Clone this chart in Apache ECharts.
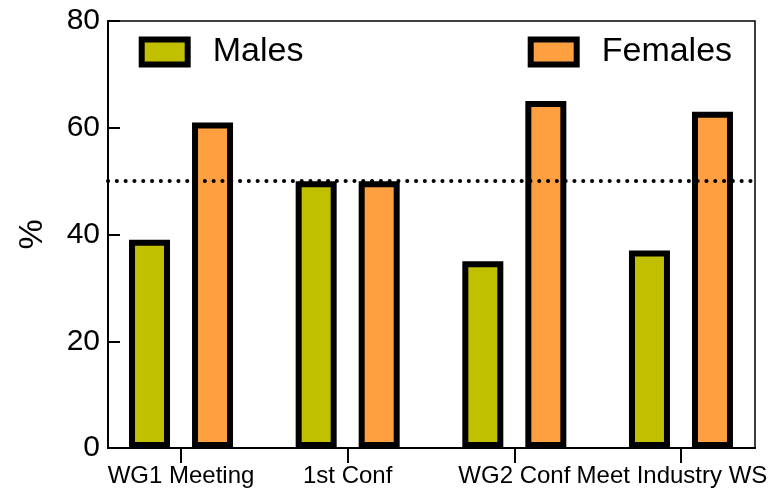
<!DOCTYPE html>
<html>
<head>
<meta charset="utf-8">
<script src="https://cdn.jsdelivr.net/npm/echarts@6/dist/echarts.min.js"></script>
<style>
html,body{margin:0;padding:0;background:#fff;}
#chart{width:780px;height:495px;}
</style>
</head>
<body>
<div id="chart"></div>
<script>
const categories = ['WG1 Meeting', '1st Conf', 'WG2 Conf', 'Meet Industry WS'];
const males = [39, 50, 35, 37];
const females = [61, 50, 65, 63];
const seriesNames = ['Males', 'Females'];
const yMin = 0, yMax = 80, yStep = 20;
const refLine = 50;

const FONT = 'Liberation Sans, Arial, Helvetica, sans-serif';
const maleColor = '#c0bf00';
const femaleColor = '#ffa040';

const chart = echarts.init(document.getElementById('chart'), null, {renderer: 'canvas'});
chart.setOption({
  animation: false,
  backgroundColor: '#fff',
  textStyle: {fontFamily: FONT},
  grid: [
    {left: 108, right: 25, top: 21, bottom: 47, show: true, borderColor: '#000', borderWidth: 1.5, backgroundColor: 'transparent'},
    {left: 97.7, right: 15.7, top: 21, bottom: 47}
  ],
  legend: [
    {
      data: [seriesNames[0]], left: 138.7, top: 35, padding: 0,
      icon: 'rect', itemWidth: 46, itemHeight: 25,
      itemStyle: {borderColor: '#000', borderWidth: 6},
      textStyle: {fontSize: 34, color: '#000', fontFamily: FONT, lineHeight: 34, padding: [0, 0, 0, 20]}
    },
    {
      data: [seriesNames[1]], left: 527.7, top: 35, padding: 0,
      icon: 'rect', itemWidth: 46, itemHeight: 25,
      itemStyle: {borderColor: '#000', borderWidth: 6},
      textStyle: {fontSize: 34, color: '#000', fontFamily: FONT, lineHeight: 34, padding: [0, 0, 0, 20]}
    }
  ],
  xAxis: [
    {
      gridIndex: 0, type: 'value', min: 0, max: 1,
      axisLine: {show: true, lineStyle: {color: '#000', width: 2}},
      axisTick: {show: false}, axisLabel: {show: false}, splitLine: {show: false}
    },
    {
      gridIndex: 1, type: 'category', boundaryGap: true,
      data: categories.map((c, i) => i === categories.length - 1
        ? {value: c, textStyle: {padding: [0, 18, 0, 0]}} : c),
      axisLine: {show: false},
      axisTick: {show: true, alignWithLabel: true, length: 15, lineStyle: {color: '#000', width: 2}},
      axisLabel: {interval: 0, fontSize: 24, color: '#000', margin: 16, fontFamily: FONT},
      splitLine: {show: false}
    }
  ],
  yAxis: [
    {
      gridIndex: 0, type: 'value', min: yMin, max: yMax, interval: yStep,
      name: '%', nameLocation: 'middle', nameGap: 58, nameRotate: 90,
      nameTextStyle: {fontSize: 34, color: '#000', fontFamily: FONT},
      axisLine: {show: true, lineStyle: {color: '#000', width: 2}},
      axisTick: {show: true, inside: true, length: 12, lineStyle: {color: '#000', width: 2}},
      axisLabel: {fontSize: 30, color: '#000', margin: 8, fontFamily: FONT},
      splitLine: {show: false}
    },
    {
      gridIndex: 1, type: 'value', min: yMin, max: yMax, interval: yStep, show: false,
      splitLine: {show: false}
    }
  ],
  series: [
    {
      name: 'ref', type: 'line', xAxisIndex: 0, yAxisIndex: 0, data: [], z: 1,
      markLine: {
        silent: true, symbol: ['none', 'none'], label: {show: false},
        lineStyle: {color: '#000', type: [0.1, 8.7], cap: 'round', width: 4},
        data: [{yAxis: refLine}]
      }
    },
    {
      name: seriesNames[0], type: 'bar', xAxisIndex: 1, yAxisIndex: 1, data: males, z: 3,
      barWidth: 41, barGap: '53.7%',
      itemStyle: {color: maleColor, borderColor: '#000', borderWidth: 6}
    },
    {
      name: seriesNames[1], type: 'bar', xAxisIndex: 1, yAxisIndex: 1, data: females, z: 3,
      barWidth: 41, barGap: '53.7%',
      itemStyle: {color: femaleColor, borderColor: '#000', borderWidth: 6}
    }
  ]
});
</script>
</body>
</html>
